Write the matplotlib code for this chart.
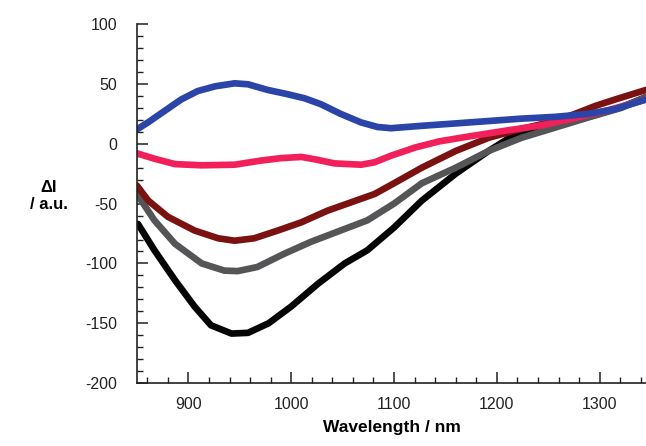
import matplotlib.pyplot as plt
from matplotlib.ticker import MultipleLocator

# Spectra (wavelength in nm, delta I in a.u.)
wl_blue = [850, 861, 877, 893, 909, 926, 945, 958, 977, 996, 1013, 1029, 1048, 1068, 1084,
           1097, 1127, 1160, 1192, 1224, 1257, 1289, 1315, 1345]
di_blue = [12, 18, 27.5, 37, 44, 48, 50.5, 49.7, 45, 41.5, 38, 33, 25, 17.8, 14,
           13, 15, 17, 19, 21, 22.5, 25, 29, 37]

wl_pink = [850, 867, 887, 913, 945, 971, 990, 1010, 1023, 1042, 1068, 1081, 1097,
           1121, 1144, 1177, 1209, 1241, 1273, 1306, 1345]
di_pink = [-8, -12.5, -17, -18, -17.5, -14, -12, -11, -13, -16.4, -17.5, -15.5, -10,
           -3, 2, 6.7, 11, 15, 21, 27.5, 37]

wl_red = [850, 861, 880, 906, 929, 945, 964, 987, 1010, 1035, 1058, 1081, 1100,
          1127, 1160, 1192, 1224, 1257, 1276, 1296, 1315, 1345]
di_red = [-35, -47.5, -61, -72.5, -79, -81, -79, -72.5, -65.6, -56, -49, -42, -33,
          -20, -6, 5, 12.5, 19, 25, 31.7, 37, 45]

wl_gray = [850, 867, 887, 913, 935, 948, 967, 993, 1019, 1048, 1074, 1100,
           1127, 1160, 1192, 1224, 1257, 1289, 1321, 1345]
di_gray = [-42, -64, -83.6, -100, -106, -106.4, -103, -92, -82, -72.5, -64, -50,
           -33, -20, -6, 5, 13.6, 22, 30, 39]

wl_black = [851, 867, 887, 906, 922, 942, 958, 978, 1000, 1026, 1052, 1074, 1100,
            1127, 1160, 1192, 1218, 1241, 1257, 1289, 1321, 1345]
di_black = [-67, -89, -114, -136, -151.7, -158.6, -158, -150, -136, -117, -100, -89, -70,
            -47.5, -25, -6, 8, 13.6, 16, 22.5, 30.5, 39]

plt.rcParams['font.family'] = ['Liberation Sans', 'DejaVu Sans']
plt.rcParams['axes.unicode_minus'] = False

fig = plt.figure(figsize=(6.46, 4.46), dpi=100)
ax = fig.add_axes([0.212, 0.141, 0.788, 0.805])

lw = 4.8
style = dict(lw=lw, solid_capstyle='round', solid_joinstyle='round')
ax.plot(wl_black, di_black, color='#050505', **style)
ax.plot(wl_gray, di_gray, color='#555557', **style)
ax.plot(wl_red, di_red, color='#7b1212', **style)
ax.plot(wl_pink, di_pink, color='#f1205a', **style)
ax.plot(wl_blue, di_blue, color='#2b44a8', **style)

ax.set_xlim(850, 1345)
ax.set_ylim(-200, 100)

# Axes look
ax.spines['top'].set_visible(False)
ax.spines['right'].set_visible(False)
for s in ['left', 'bottom']:
    ax.spines[s].set_linewidth(1.2)
    ax.spines[s].set_color('#222222')

ax.xaxis.set_major_locator(MultipleLocator(100))
ax.xaxis.set_minor_locator(MultipleLocator(20))
ax.yaxis.set_major_locator(MultipleLocator(50))
ax.yaxis.set_minor_locator(MultipleLocator(10))
ax.tick_params(which='major', direction='in', length=8, width=1.1, color='#222222',
               labelsize=11.5, labelcolor='#222222')
ax.tick_params(which='minor', direction='in', length=4, width=1.0, color='#222222')
ax.tick_params(axis='x', pad=10)
ax.tick_params(axis='y', pad=14)

ax.set_xlabel('Wavelength / nm', fontsize=12.5, fontweight='bold', labelpad=6)
fig.text(0.075, 0.56, 'ΔI\n/ a.u.', ha='center', va='center', fontsize=12,
         fontweight='bold', linespacing=1.2)

fig.savefig('out.png', dpi=100)
